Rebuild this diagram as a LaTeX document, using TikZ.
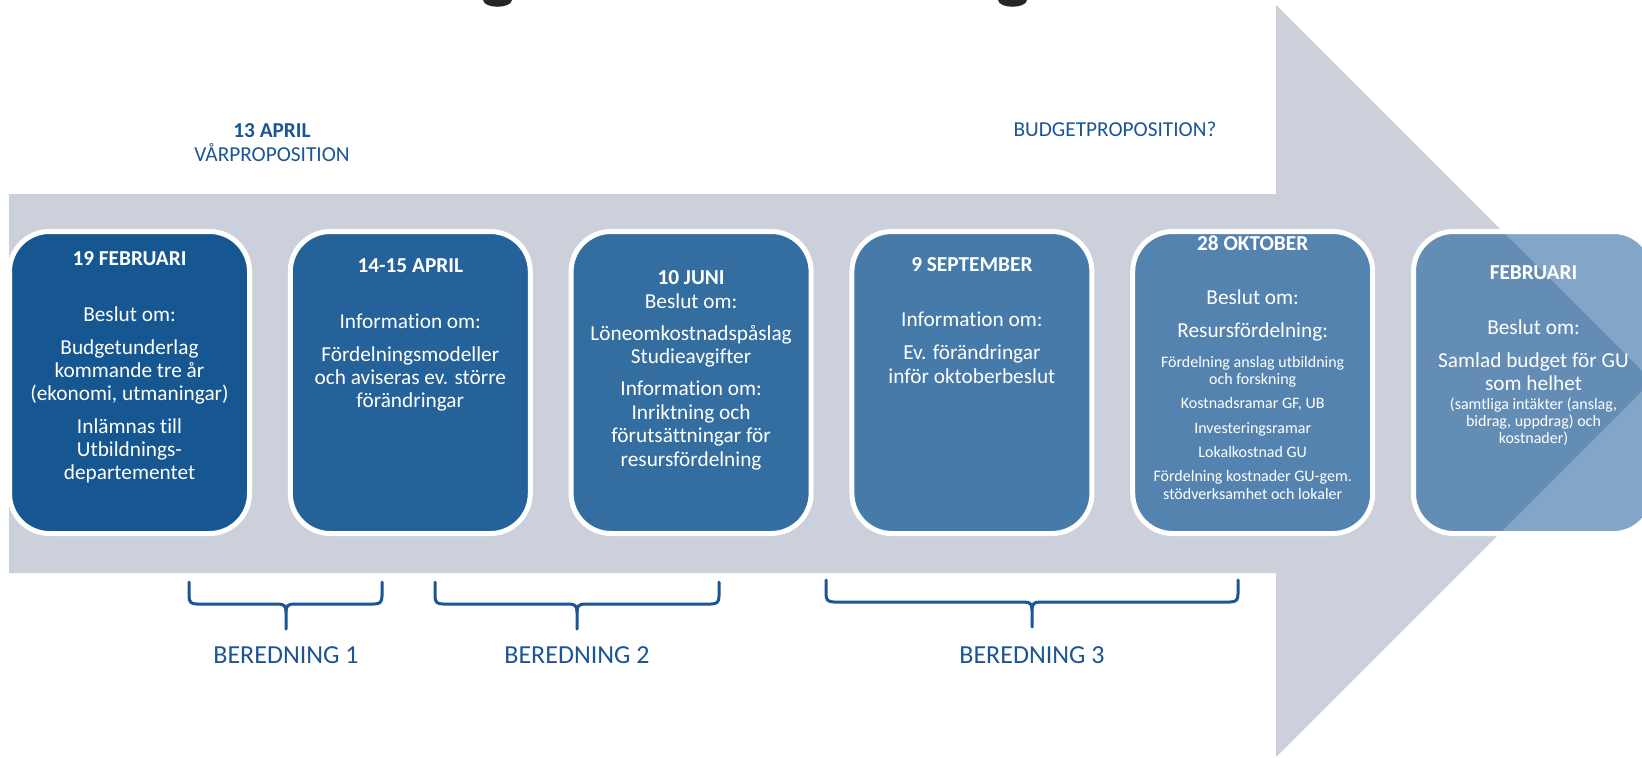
\documentclass[tikz,border=0pt]{standalone}
\usepackage{fontspec}
\setmainfont{Carlito}[Ligatures=NoCommon]
\definecolor{arrowgray}{RGB}{203,208,219}
\definecolor{labblue}{RGB}{27,85,148}
\definecolor{blobc}{RGB}{38,38,38}
\definecolor{cA}{RGB}{22,87,146}
\definecolor{cB}{RGB}{38,98,154}
\definecolor{cC}{RGB}{52,110,160}
\definecolor{cD}{RGB}{70,122,169}
\definecolor{cE}{RGB}{85,131,176}
\definecolor{cFd}{RGB}{99,141,181}
\definecolor{cFl}{RGB}{130,166,200}
\newcommand\drawbrace[6]{%
  \draw[bracestyle] (#1,#4) -- (#1,{#5-8}) .. controls (#1,{#5-2}) and ({#1+2},#5) .. ({#1+8},#5)
     -- ({#3-8},#5) .. controls ({#3-2},#5) and (#3,{#5+2}) .. (#3,{#5+8}) -- (#3,#6);
  \draw[bracestyle] (#2,#4) -- (#2,{#5-8}) .. controls (#2,{#5-2}) and ({#2-2},#5) .. ({#2-8},#5)
     -- ({#3+8},#5) .. controls ({#3+2},#5) and (#3,{#5+2}) .. (#3,{#5+8});
}
\tikzset{
  boxshape/.style={rectangle, rounded corners=40pt, minimum width=240pt, minimum height=302pt,
    inner sep=0pt, outer sep=0pt, draw=white, line width=5pt},
  bt/.style={text=white, font=\fontsize{21.3}{23}\selectfont, anchor=base, inner sep=0pt},
  bth/.style={bt, font=\bfseries\fontsize{21.3}{23}\selectfont},
  bts/.style={bt, font=\fontsize{16}{17}\selectfont},
  toplab/.style={text=labblue, font=\fontsize{21.3}{23}\selectfont, anchor=base, inner sep=0pt},
  toplabb/.style={toplab, font=\bfseries\fontsize{21.3}{23}\selectfont},
  berlab/.style={text=labblue, font=\fontsize{26}{28}\selectfont, anchor=base, inner sep=0pt},
  bracestyle/.style={draw=labblue, line width=3pt, line cap=round, line join=round},
}
\begin{document}
\begin{tikzpicture}[x=1pt,y=-1pt]
\useasboundingbox (0,0) rectangle (1642,758);
\fill[white] (0,0) rectangle (1642,758);
% remnants of cut-off title
\fill[blobc] (483,0) .. controls (484,9) and (511,9) .. (512,0) -- cycle;
\fill[blobc] (998,0) .. controls (999,9) and (1026,9) .. (1027,0) -- cycle;
% big arrow
\fill[arrowgray] (9,194) -- (1276,194) -- (1276,5) -- (1652,381) -- (1276,757) -- (1276,573) -- (9,573) -- cycle;
% top labels
\node[toplabb] (apr) at (272,137) {13 APRIL};
\node[toplab] (varp) at (272,161.5) {VÅRPROPOSITION};
\node[toplab] (budp) at (1115,136) {BUDGETPROPOSITION?};
% boxes
\node[boxshape, fill=cA] (b1) at (129.5,382.5) {};
\node[boxshape, fill=cB] (b2) at (410.3,382.5) {};
\node[boxshape, fill=cC] (b3) at (691.1,382.5) {};
\node[boxshape, fill=cD] (b4) at (971.9,382.5) {};
\node[boxshape, fill=cE] (b5) at (1252.7,382.5) {};
\node[boxshape, fill=cFl, draw=none] (b6) at (1533.5,382.5) {};
\begin{scope}
  \clip[rounded corners=40pt] (b6.south west) rectangle (b6.north east);
  \fill[cFd] (9,194) -- (1276,194) -- (1276,5) -- (1652,381) -- (1276,757) -- (1276,573) -- (9,573) -- cycle;
\end{scope}
\draw[white, line width=5pt, rounded corners=40pt] (b6.south west) rectangle (b6.north east);
% box 1
\node[bth] (t1a) at (129.5,265) {19 FEBRUARI};
\node[bt] (t1b) at (129.5,321.5) {Beslut om:};
\node[bt] (t1c) at (129.5,354.5) {Budgetunderlag};
\node[bt] (t1d) at (129.5,377.5) {kommande tre år};
\node[bt] (t1e) at (129.5,400.5) {(ekonomi, utmaningar)};
\node[bt] (t1f) at (129.5,433.5) {Inlämnas till};
\node[bt] (t1g) at (129.5,456.5) {Utbildnings-};
\node[bt] (t1h) at (129.5,479.5) {departementet};
% box 2
\node[bth] (t2a) at (410.3,272) {14-15 APRIL};
\node[bt] (t2b) at (410.3,328.5) {Information om:};
\node[bt] (t2c) at (410.3,361.5) {Fördelningsmodeller};
\node[bt] (t2d) at (410.3,384.5) {och aviseras ev. större};
\node[bt] (t2e) at (410.3,407.5) {förändringar};
% box 3
\node[bth] (t3a) at (691.1,284) {10 JUNI};
\node[bt] (t3b) at (691.1,308.5) {Beslut om:};
\node[bt] (t3c) at (691.1,340.5) {Löneomkostnadspåslag};
\node[bt] (t3d) at (691.1,363.5) {Studieavgifter};
\node[bt] (t3e) at (691.1,395.5) {Information om:};
\node[bt] (t3f) at (691.1,419) {Inriktning och};
\node[bt] (t3g) at (691.1,442.5) {förutsättningar för};
\node[bt] (t3h) at (691.1,466) {resursfördelning};
% box 4
\node[bth] (t4a) at (971.9,271) {9 SEPTEMBER};
\node[bt] (t4b) at (971.9,326.5) {Information om:};
\node[bt] (t4c) at (971.9,359.5) {Ev. förändringar};
\node[bt] (t4d) at (971.9,383) {inför oktoberbeslut};
% box 5
\node[bth] (t5a) at (1252.7,250) {28 OKTOBER};
\node[bt] (t5b) at (1252.7,304.5) {Beslut om:};
\node[bt] (t5c) at (1252.7,337.5) {Resursfördelning:};
\node[bts] (t5d) at (1252.7,367) {Fördelning anslag utbildning};
\node[bts] (t5e) at (1252.7,384) {och forskning};
\node[bts] (t5f) at (1252.7,408) {Kostnadsramar GF, UB};
\node[bts] (t5g) at (1252.7,433) {Investeringsramar};
\node[bts] (t5h) at (1252.7,457) {Lokalkostnad GU};
\node[bts] (t5i) at (1252.7,481) {Fördelning kostnader GU-gem.};
\node[bts] (t5j) at (1252.7,499) {stödverksamhet och lokaler};
% box 6
\node[bth] (t6a) at (1533.5,279) {FEBRUARI};
\node[bt] (t6b) at (1533.5,334.5) {Beslut om:};
\node[bt] (t6c) at (1533.5,367.5) {Samlad budget för GU};
\node[bt] (t6d) at (1533.5,390) {som helhet};
\node[bts] (t6e) at (1533.5,409) {(samtliga intäkter (anslag,};
\node[bts] (t6f) at (1533.5,426) {bidrag, uppdrag) och};
\node[bts] (t6g) at (1533.5,443) {kostnader)};
% braces
\drawbrace{189}{382}{286}{582}{604}{629}
\drawbrace{435}{719}{577}{582}{604}{629}
\drawbrace{826}{1238}{1032}{580}{602}{627}
% beredning labels
\node[berlab] (ber1) at (286,663) {BEREDNING 1};
\node[berlab] (ber2) at (577,663) {BEREDNING 2};
\node[berlab] (ber3) at (1032,663) {BEREDNING 3};
\end{tikzpicture}
\end{document}
